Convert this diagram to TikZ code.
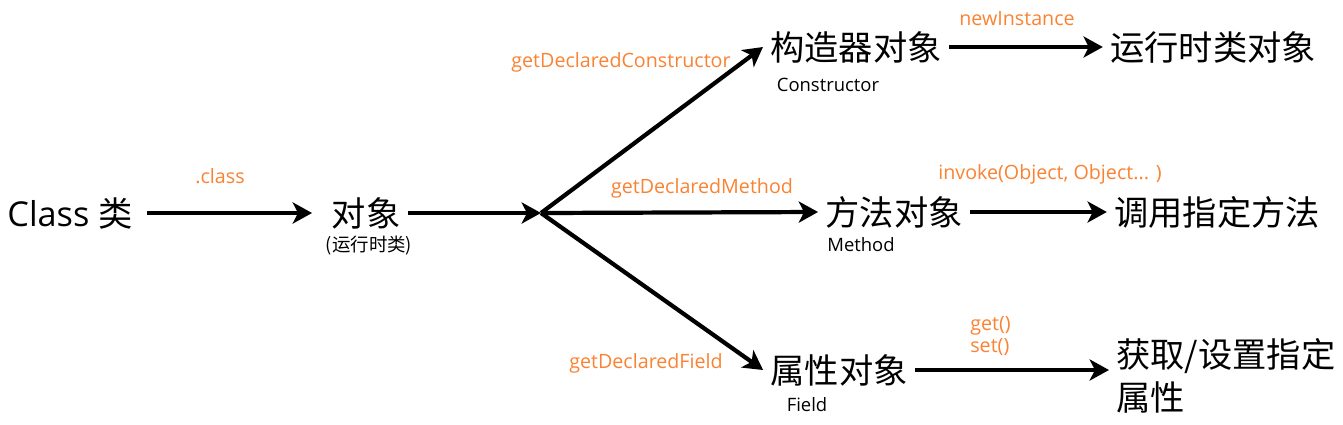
\documentclass[tikz,border=0pt]{standalone}
\usepackage{fontspec}
\setmainfont{Open Sans}
\newfontfamily\cjk{Noto Sans CJK SC}
\usetikzlibrary{arrows.meta, positioning}
\definecolor{lblorange}{RGB}{250,130,50}

\tikzset{
    big/.style={font=\fontsize{19.5}{24.4}\selectfont\cjk, inner sep=0pt, inner xsep=4pt},
    sub/.style={font=\fontsize{10.5}{12}\selectfont, inner sep=0pt},
    lbl/.style={font=\fontsize{11.2}{13}\selectfont, text=lblorange, inner sep=0pt},
    flow/.style={line width=2.4pt, -{Stealth[length=11pt, width=12pt, inset=3pt]}},
}

\begin{document}
\begin{tikzpicture}[x=0.02cm, y=-0.02cm]
    \useasboundingbox (0,0) rectangle (1343,424);

    % Class -> object
    \node[big] (cls) at (70,213) {\rmfamily Class \cjk 类};
    \node[big] (obj) at (366,213) {对象};
    \node[sub] (objsub) at (369,246) {\cjk (运行时类)};
    \coordinate (br) at (541,213);

    % reflected members
    \node[big] (ctor) at (856,47) {构造器对象};
    \node[sub] (ctorsub) at (828,85) {Constructor};
    \node[big] (meth) at (894,212) {方法对象};
    \node[sub] (methsub) at (861,245) {Method};
    \node[big] (fld) at (839,370) {属性对象};
    \node[sub] (fldsub) at (807,405) {Field};

    % results
    \node[big] (inst) at (1213,47) {运行时类对象};
    \node[big] (call) at (1217,212) {调用指定方法};
    \node[big, align=left, anchor=west] (acc) at (1109,376) {获取/设置指定\\属性};

    % edge labels
    \node[lbl] (lclass) at (220,176) {.class};
    \node[lbl] (lctor) at (621,62) {getDeclaredConstructor};
    \node[lbl] (lnew) at (1017,19) {newInstance};
    \node[lbl] (lmeth) at (702,188) {getDeclaredMethod};
    \node[lbl] (linv) at (1050,174) {invoke(Object, Object... )};
    \node[lbl] (lfld) at (646,363) {getDeclaredField};
    \node[lbl, align=left, anchor=west] (lget) at (970,336) {get()\\set()};

    % connectors
    \draw[flow, shorten <=4pt, shorten >=7pt] (cls) -- (obj);
    \draw[flow] (obj) -- (br);
    \draw[flow] (br) -- (ctor.west);
    \draw[flow] (br) -- (meth.west);
    \draw[flow] (br) -- (fld.west);
    \draw[flow] (ctor) -- (inst);
    \draw[flow] (meth) -- (call);
    \draw[flow] (fld) -- (fld -| acc.west);
\end{tikzpicture}
\end{document}
